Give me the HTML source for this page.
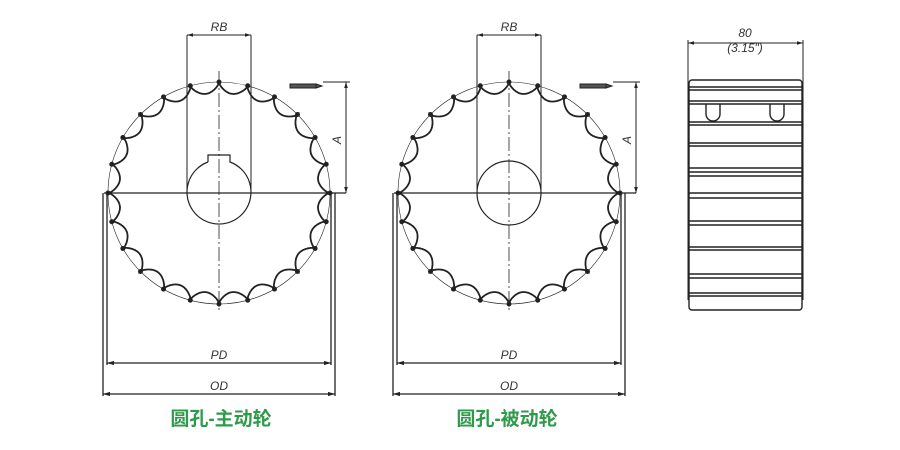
<!DOCTYPE html>
<html><head><meta charset="utf-8"><style>
body{margin:0;background:#fff}
svg{display:block}
text{font-family:"Liberation Sans",sans-serif;font-style:italic;font-size:12px;fill:#333}
.cn{font-family:"Liberation Sans","Noto Sans CJK SC",sans-serif;font-style:normal;font-size:19px;font-weight:bold;fill:#2e9a4a}
</style></head><body>
<svg id="s" width="900" height="450" viewBox="0 0 900 450" xmlns="http://www.w3.org/2000/svg">
<defs><marker id="a" viewBox="0 0 10 10" refX="10" refY="5" markerWidth="6" markerHeight="6" orient="auto-start-reverse"><path d="M0,2 L10,5 L0,8z" fill="#222"/></marker></defs>
<g id="g" fill="none" stroke="#222" stroke-width="1"></g>
<g id="t"></g>
<!-- side view -->
<g fill="none" stroke="#222" stroke-width="1.4">
<line x1="688" y1="43" x2="803" y2="43" marker-start="url(#a)" marker-end="url(#a)" stroke-width="1"/>
<line x1="688" y1="40" x2="688" y2="300" stroke-width="1"/><line x1="803" y1="40" x2="803" y2="300" stroke-width="1"/>
<rect x="689" y="80" width="113" height="230" rx="3"/>
<path d="M689,87h113 M689,90h113 M689,101h113 M689,104h113 M689,122h113 M689,125h113 M689,143h113 M689,146h113 M689,168h113 M689,172h113 M689,176h113 M689,193h113 M689,198h113 M689,221h113 M689,225h113 M689,247h113 M689,250h113 M689,274h113 M689,278h113 M689,293h113 M689,296h113"/>
<path d="M706,104 v10 a7,7 0 0 0 14,0 v-10 M770,104 v10 a7,7 0 0 0 14,0 v-10"/>
</g>
<text x="745" y="37" text-anchor="middle">80</text>
<text x="745" y="52" text-anchor="middle">(3.15")</text>
<text class="cn" x="221" y="425" text-anchor="middle">圆孔-主动轮</text>
<text class="cn" x="507" y="425" text-anchor="middle">圆孔-被动轮</text>
</svg>
<script>
var g=document.getElementById('g'),t=document.getElementById('t'),NS='http://www.w3.org/2000/svg';
function el(p,tag,at){var e=document.createElementNS(NS,tag);for(var k in at)e.setAttribute(k,at[k]);p.appendChild(e);return e;}
function sprocket(cx,cy,key){
 var R=111,N=24,d='';
 for(var i=0;i<=1440;i++){var th=i/1440*2*Math.PI;var ph=(th*N/(2*Math.PI))%1;
  var r=R-11*Math.pow(Math.sin(Math.PI*ph),0.6);
  d+=(i?'L':'M')+(cx+r*Math.sin(th)).toFixed(1)+','+(cy-r*Math.cos(th)).toFixed(1);}
 el(g,'path',{d:d,'stroke-width':1.8});
 el(g,'circle',{cx:cx,cy:cy,r:R,'stroke-width':0.6});
 for(var i=0;i<N;i++){var th=i/N*2*Math.PI;el(g,'circle',{cx:cx+R*Math.sin(th),cy:cy-R*Math.cos(th),r:2,fill:'#222'});}
 if(key){el(g,'path',{d:'M'+(cx-11)+','+(cy-31)+' v-7 h22 v7 A32,32 0 1 1 '+(cx-11)+','+(cy-31),'stroke-width':1.2});}
 else el(g,'circle',{cx:cx,cy:cy,r:32,'stroke-width':1.2});
 el(g,'line',{x1:cx-115,y1:cy,x2:cx+127,y2:cy,'stroke-width':1.3});
 el(g,'line',{x1:cx,y1:cy-122,x2:cx,y2:cy+120,'stroke-dasharray':'14,3,2,3','stroke-width':0.8});
 el(g,'line',{x1:cx-32,y1:35,x2:cx-32,y2:cy});el(g,'line',{x1:cx+32,y1:35,x2:cx+32,y2:cy});
 el(g,'line',{x1:cx-32,y1:35,x2:cx+32,y2:35,'marker-start':'url(#a)','marker-end':'url(#a)'});
 el(g,'line',{x1:cx+127,y1:82,x2:cx+127,y2:cy,'marker-start':'url(#a)','marker-end':'url(#a)'});
 el(g,'line',{x1:cx+104,y1:82,x2:cx+131,y2:82});
 el(g,'rect',{x:cx+71,y:84,width:26,height:4,fill:'#555'});el(g,'path',{d:'M'+(cx+97)+',84 l6,2 l-6,2z',fill:'#555'});
 el(g,'line',{x1:cx-112,y1:cy,x2:cx-112,y2:365,'stroke-width':1.3});el(g,'line',{x1:cx+112,y1:cy,x2:cx+112,y2:365,'stroke-width':1.3});
 el(g,'line',{x1:cx-116,y1:cy,x2:cx-116,y2:396,'stroke-width':1.3});el(g,'line',{x1:cx+116,y1:cy,x2:cx+116,y2:396,'stroke-width':1.3});
 el(g,'line',{x1:cx-112,y1:363,x2:cx+112,y2:363,'marker-start':'url(#a)','marker-end':'url(#a)','stroke-width':1.2});
 el(g,'line',{x1:cx-116,y1:394,x2:cx+116,y2:394,'marker-start':'url(#a)','marker-end':'url(#a)','stroke-width':1.2});
 var tx=function(x,y,s,rot){var e=el(t,'text',{x:x,y:y,'text-anchor':'middle'});if(rot)e.setAttribute('transform','rotate(-90 '+x+' '+y+')');e.textContent=s;};
 tx(cx,31,'RB');tx(cx,359,'PD');tx(cx,390,'OD');tx(cx+122,140,'A',1);
}
sprocket(219,193,true);sprocket(509,193,false);
</script>
</body></html>
